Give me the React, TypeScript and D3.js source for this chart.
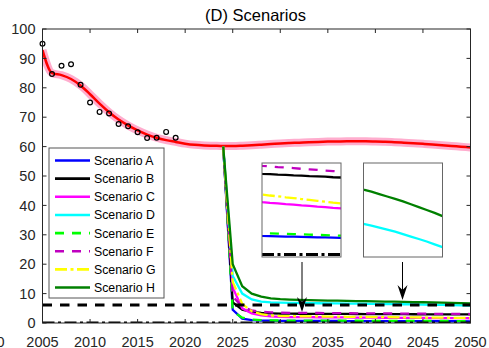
import React from "react";
import * as d3 from "d3";

const W = 489;
const H = 348;

// Observed values
const obsYears = [2005, 2006, 2007, 2008, 2009, 2010, 2011, 2012, 2013, 2014, 2015, 2016, 2017, 2018, 2019];
const obsValues = [95, 84.7, 87.5, 88, 81, 75, 71.8, 71.3, 67.7, 66.9, 64.9, 62.9, 63, 65, 63];

// Fitted model trajectory
const modelYears = d3.range(2005, 2051);
const modelValues = [
  92.8, 85.0, 84.3, 83.0, 80.8, 77.8, 74.6, 71.7, 69.2, 67.2,
  65.5, 64.1, 63.0, 62.2, 61.6, 61.0, 60.6, 60.4, 60.3, 60.2,
  60.2, 60.3, 60.45, 60.65, 60.85, 61.05, 61.2, 61.35, 61.5, 61.6,
  61.7, 61.75, 61.8, 61.8, 61.78, 61.72, 61.62, 61.48, 61.32, 61.14,
  60.94, 60.72, 60.48, 60.22, 59.96, 59.7,
];

// Scenario trajectories, 2024–2050
const scenarioYears = d3.range(2024, 2051);
const scenarioA = [60, 4.5, 1.5, 1.0, 0.85, 0.78, 0.73, 0.72, 0.71, 0.70, 0.70, 0.69, 0.68, 0.67, 0.67, 0.66, 0.65, 0.64, 0.64, 0.63, 0.62, 0.62, 0.61, 0.60, 0.60, 0.59, 0.58];
const scenarioB = [60, 7, 4.5, 3.8, 3.4, 3.25, 3.17, 3.16, 3.14, 3.13, 3.11, 3.10, 3.08, 3.07, 3.06, 3.04, 3.03, 3.02, 3.00, 2.99, 2.98, 2.96, 2.95, 2.94, 2.92, 2.91, 2.90];
const scenarioC = [60, 12, 5, 3.3, 2.6, 2.25, 2.06, 2.03, 2.01, 1.98, 1.96, 1.93, 1.91, 1.88, 1.86, 1.83, 1.81, 1.79, 1.77, 1.75, 1.73, 1.71, 1.69, 1.67, 1.65, 1.63, 1.61];
const scenarioD = [60, 16, 10, 8, 7.3, 7.0, 6.9, 6.85, 6.8, 6.76, 6.72, 6.68, 6.65, 6.62, 6.58, 6.55, 6.51, 6.47, 6.42, 6.37, 6.32, 6.26, 6.2, 6.14, 6.08, 6.01, 5.94];
const scenarioE = [60, 4, 1.8, 1.2, 1.0, 0.9, 0.84, 0.83, 0.82, 0.81, 0.80, 0.79, 0.78, 0.77, 0.76, 0.75, 0.74, 0.73, 0.72, 0.71, 0.70, 0.70, 0.69, 0.68, 0.67, 0.66, 0.65];
const scenarioF = [60, 9, 5.5, 4.3, 3.8, 3.6, 3.49, 3.47, 3.44, 3.42, 3.40, 3.37, 3.35, 3.33, 3.30, 3.28, 3.26, 3.24, 3.22, 3.20, 3.18, 3.16, 3.13, 3.11, 3.09, 3.07, 3.05];
const scenarioG = [60, 14, 6.5, 4, 3.0, 2.55, 2.36, 2.32, 2.29, 2.25, 2.22, 2.18, 2.15, 2.11, 2.08, 2.04, 2.01, 1.98, 1.95, 1.92, 1.89, 1.86, 1.83, 1.80, 1.77, 1.74, 1.71];
const scenarioH = [60, 20, 12.5, 10, 9, 8.4, 8.1, 7.95, 7.85, 7.78, 7.7, 7.64, 7.58, 7.52, 7.46, 7.41, 7.35, 7.30, 7.24, 7.18, 7.12, 7.06, 6.99, 6.92, 6.85, 6.78, 6.70];

const scenarioNames = ["Scenario A", "Scenario B", "Scenario C", "Scenario D", "Scenario E", "Scenario F", "Scenario G", "Scenario H"];
const scenarioSeries = [scenarioA, scenarioB, scenarioC, scenarioD, scenarioE, scenarioF, scenarioG, scenarioH];

// Reference levels
const thresholdLevel = 6.1;
const zeroLevel = 0;

const xTicks = [2005, 2010, 2015, 2020, 2025, 2030, 2035, 2040, 2045, 2050];
const yTicks = [0, 10, 20, 30, 40, 50, 60, 70, 80, 90, 100];

const DASH = "9,8";
const DASHDOT = "12,3.5,3,3.5";
const styles = [
  { color: "#0000ff", dash: undefined },
  { color: "#000000", dash: undefined },
  { color: "#ff00ff", dash: undefined },
  { color: "#00ffff", dash: undefined },
  { color: "#00ff00", dash: DASH },
  { color: "#bf00bf", dash: DASH },
  { color: "#ffff00", dash: DASHDOT },
  { color: "#008000", dash: undefined },
];

const FONT = "'Liberation Sans', Arial, Helvetica, sans-serif";
const AXIS = "#262626";

export default function App() {
  const x = d3.scaleLinear().domain([2005, 2050]).range([42.5, 470.5]);
  const y = d3.scaleLinear().domain([0, 100]).range([323, 29]);
  const [x0, x1] = x.range();
  const [yb, yt] = y.range();

  const modelLine = d3
    .line<number>()
    .x((_, i) => x(modelYears[i]))
    .y((d) => y(d))
    .curve(d3.curveMonotoneX);

  const seriesLine = (sx: d3.ScaleLinear<number, number>, sy: d3.ScaleLinear<number, number>) =>
    d3
      .line<number>()
      .x((_, i) => sx(scenarioYears[i]))
      .y((d) => sy(d));

  const mainLine = seriesLine(x, y);

  // Inset windows
  const in1 = { x: 262, y: 163, w: 79, h: 94 };
  const ix1 = d3.scaleLinear().domain([2030, 2040]).range([in1.x, in1.x + in1.w]);
  const iy1 = d3.scaleLinear().domain([-0.1, 3.6]).range([in1.y + in1.h, in1.y]);
  const in2 = { x: 363.5, y: 163, w: 79, h: 94 };
  const ix2 = d3.scaleLinear().domain([2040, 2050]).range([in2.x, in2.x + in2.w]);
  const iy2 = d3.scaleLinear().domain([5.7, 8.0]).range([in2.y + in2.h, in2.y]);
  const inset1Idx = [0, 1, 2, 4, 5, 6];
  const inset2Idx = [3, 7];

  const arrowHead = (cx: number, tip: number) =>
    `M${cx},${tip} L${cx - 5},${tip - 15} L${cx},${tip - 10} L${cx + 5},${tip - 15} Z`;

  const legend = { x: 49, y: 148, w: 115, h: 150 };
  const legendRowY = (i: number) => 160.5 + i * 18.15;

  return (
    <svg
      width={W}
      height={H}
      style={{ position: "absolute", left: 0, top: 0, background: "#fff" }}
      fontFamily={FONT}
    >
      <defs>
        <clipPath id="plot-clip">
          <rect x={x0} y={yt} width={x1 - x0} height={yb - yt} />
        </clipPath>
        <clipPath id="inset1-clip">
          <rect x={in1.x} y={in1.y} width={in1.w} height={in1.h} />
        </clipPath>
        <clipPath id="inset2-clip">
          <rect x={in2.x} y={in2.y} width={in2.w} height={in2.h} />
        </clipPath>
      </defs>
      <rect width={W} height={H} fill="#fff" />

      {/* title */}
      <text x={255.5} y={21} textAnchor="middle" fontSize={16.5} fill="#000">
        (D) Scenarios
      </text>

      <g clipPath="url(#plot-clip)">
        {/* model fit with uncertainty band */}
        <path d={modelLine(modelValues) ?? ""} fill="none" stroke="#ff5c9d" strokeOpacity={0.5} strokeWidth={8} strokeLinejoin="round" />
        <path d={modelLine(modelValues) ?? ""} fill="none" stroke="#ff0000" strokeWidth={2.5} strokeLinejoin="round" />

        {/* scenarios */}
        {scenarioSeries.map((s, i) => (
          <path
            key={scenarioNames[i]}
            d={mainLine(s) ?? ""}
            fill="none"
            stroke={styles[i].color}
            strokeWidth={2.3}
            strokeDasharray={styles[i].dash}
          />
        ))}

        {/* reference levels */}
        <line x1={x0} x2={x1} y1={y(thresholdLevel)} y2={y(thresholdLevel)} stroke="#000" strokeWidth={3} strokeDasharray="9.5,8" />
        <line x1={x0} x2={x1} y1={y(zeroLevel)} y2={y(zeroLevel)} stroke="#000" strokeWidth={3} strokeDasharray={DASHDOT} />
      </g>

      {/* observations */}
      {obsValues.map((v, i) => (
        <circle key={obsYears[i]} cx={x(obsYears[i])} cy={y(v)} r={2.4} fill="none" stroke="#000" strokeWidth={1.2} />
      ))}

      {/* axes box and ticks */}
      <rect x={x0} y={yt} width={x1 - x0} height={yb - yt} fill="none" stroke={AXIS} strokeWidth={1} />
      {xTicks.map((t) => (
        <g key={`xt${t}`}>
          <line x1={x(t)} x2={x(t)} y1={yb} y2={yb - 4} stroke={AXIS} />
          <line x1={x(t)} x2={x(t)} y1={yt} y2={yt + 4} stroke={AXIS} />
          <text x={x(t)} y={346.5} textAnchor="middle" fontSize={14.5} fill="#262626">
            {t}
          </text>
        </g>
      ))}
      {yTicks.map((t) => (
        <g key={`yt${t}`}>
          <line x1={x0} x2={x0 + 4} y1={y(t)} y2={y(t)} stroke={AXIS} />
          <line x1={x1} x2={x1 - 4} y1={y(t)} y2={y(t)} stroke={AXIS} />
          <text x={35.5} y={y(t)} dy="0.36em" textAnchor="end" fontSize={14.5} fill="#262626">
            {t}
          </text>
        </g>
      ))}
      <text x={4.5} y={346.5} textAnchor="end" fontSize={14.5} fill="#262626">
        0
      </text>

      {/* legend */}
      <rect x={legend.x} y={legend.y} width={legend.w} height={legend.h} fill="#fff" stroke="#555" strokeWidth={1} />
      {scenarioNames.map((name, i) => (
        <g key={`lg${name}`}>
          <line
            x1={55}
            x2={90}
            y1={legendRowY(i)}
            y2={legendRowY(i)}
            stroke={styles[i].color}
            strokeWidth={2.6}
            strokeDasharray={styles[i].dash}
          />
          <text x={94} y={legendRowY(i)} dy="0.36em" fontSize={12.3} fill="#000">
            {name}
          </text>
        </g>
      ))}

      {/* inset 1 */}
      <rect x={in1.x} y={in1.y} width={in1.w} height={in1.h} fill="#fff" />
      <g clipPath="url(#inset1-clip)">
        {inset1Idx.map((i) => (
          <path
            key={`i1${i}`}
            d={seriesLine(ix1, iy1)(scenarioSeries[i]) ?? ""}
            fill="none"
            stroke={styles[i].color}
            strokeWidth={2.3}
            strokeDasharray={styles[i].dash}
          />
        ))}
        <line x1={in1.x} x2={in1.x + in1.w} y1={iy1(zeroLevel)} y2={iy1(zeroLevel)} stroke="#000" strokeWidth={3} strokeDasharray={DASHDOT} />
      </g>
      <rect x={in1.x} y={in1.y} width={in1.w} height={in1.h} fill="none" stroke="#666" strokeWidth={1} />

      {/* inset 2 */}
      <rect x={in2.x} y={in2.y} width={in2.w} height={in2.h} fill="#fff" />
      <g clipPath="url(#inset2-clip)">
        {inset2Idx.map((i) => (
          <path
            key={`i2${i}`}
            d={seriesLine(ix2, iy2)(scenarioSeries[i]) ?? ""}
            fill="none"
            stroke={styles[i].color}
            strokeWidth={2.3}
          />
        ))}
      </g>
      <rect x={in2.x} y={in2.y} width={in2.w} height={in2.h} fill="none" stroke="#666" strokeWidth={1} />

      {/* pointer arrows */}
      <line x1={302} x2={302} y1={262} y2={303} stroke="#000" strokeWidth={1} />
      <path d={arrowHead(302, 312)} fill="#000" />
      <line x1={402.5} x2={402.5} y1={262} y2={291} stroke="#000" strokeWidth={1} />
      <path d={arrowHead(402.5, 300)} fill="#000" />
    </svg>
  );
}
